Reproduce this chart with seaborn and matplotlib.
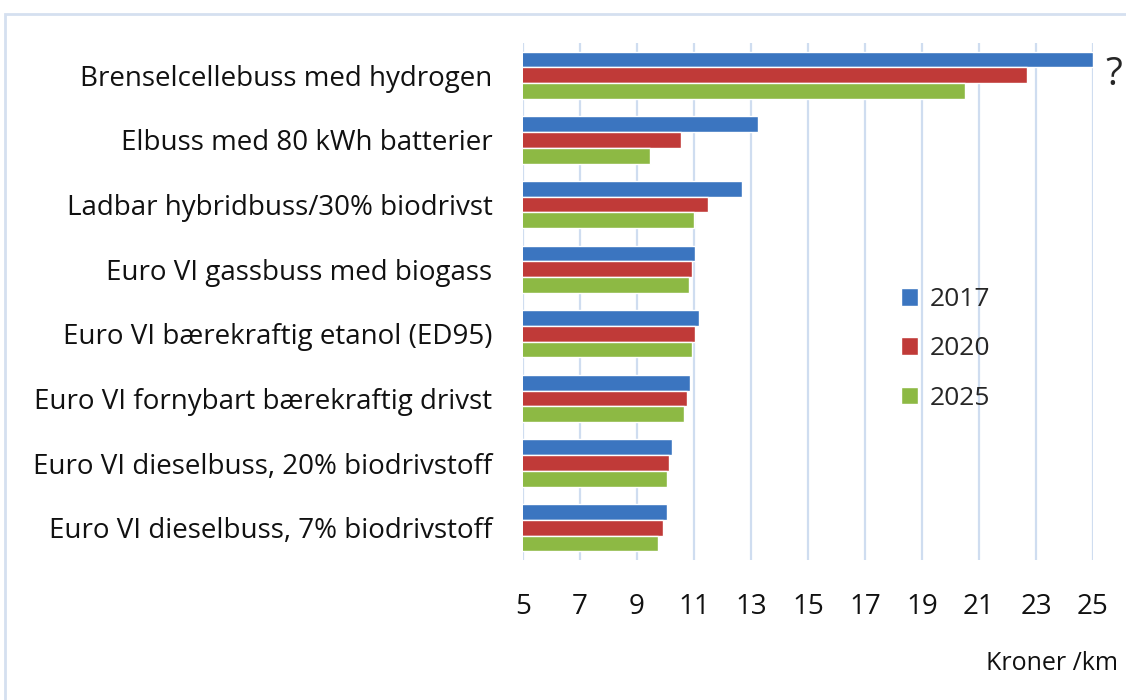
import numpy as np
import pandas as pd
import matplotlib
matplotlib.use('Agg')
import matplotlib.pyplot as plt
from matplotlib.patches import Rectangle
import seaborn as sns

# ========== data ==========
categories = [
    'Brenselcellebuss med hydrogen',
    'Elbuss med 80 kWh batterier',
    'Ladbar hybridbuss/30% biodrivst',
    'Euro VI gassbuss med biogass',
    'Euro VI bærekraftig etanol (ED95)',
    'Euro VI fornybart bærekraftig drivst',
    'Euro VI dieselbuss, 20% biodrivstoff',
    'Euro VI dieselbuss, 7% biodrivstoff',
]
years = ['2017', '2020', '2025']
cost_2017 = [25.0, 13.25, 12.7, 11.03, 11.17, 10.86, 10.23, 10.04]
cost_2020 = [22.7, 10.55, 11.5, 10.92, 11.03, 10.77, 10.13, 9.92]
cost_2025 = [20.5, 9.47, 11.0, 10.82, 10.92, 10.64, 10.05, 9.74]
x_ticks = [5, 7, 9, 11, 13, 15, 17, 19, 21, 23, 25]

colors = ['#3B75C0', '#C03A38', '#8DB944']
grid_color = '#CFDDF0'

df = pd.DataFrame({
    'kategori': categories * 3,
    'år': [y for y in years for _ in categories],
    'kr': cost_2017 + cost_2020 + cost_2025,
})

# ========== plot ==========
sns.set_theme(style='white')
plt.rcParams['font.family'] = ['Open Sans', 'DejaVu Sans']

fig = plt.figure(figsize=(11.26, 7.0), dpi=100)
ax = fig.add_axes([523 / 1126, 1 - 560 / 700, 570 / 1126, 517 / 700])

sns.barplot(data=df, x='kr', y='kategori', hue='år', order=categories,
            hue_order=years, palette=colors, saturation=1, width=0.73,
            orient='h', ax=ax)

ax.set_xlim(5, 25)
ax.set_xticks(x_ticks)
ax.set_xticklabels([str(t) for t in x_ticks])
ax.set_xlabel('')
ax.set_ylabel('')
ax.tick_params(axis='x', length=0, pad=24, labelsize=20, colors='#111111')
ax.tick_params(axis='y', length=0, pad=22, labelsize=20, colors='#111111')
for s in ax.spines.values():
    s.set_visible(False)
ax.grid(axis='x', color=grid_color, linewidth=1.6)
ax.set_axisbelow(True)

# legend
handles, labels = ax.get_legend_handles_labels()
ax.legend(handles, labels, loc='upper left', frameon=False,
          bbox_to_anchor=(888 / 1126, 1 - 274 / 700),
          bbox_transform=fig.transFigure, fontsize=19,
          handlelength=0.65, handleheight=0.65, handletextpad=0.45,
          labelspacing=0.92, borderpad=0)

# question mark next to the fuel-cell bar
ax.annotate('?', xy=(cost_2017[0], 0), xytext=(9, 0),
            textcoords='offset points', fontsize=28, va='center',
            ha='left', annotation_clip=False)

fig.text(1118 / 1126, 1 - 663 / 700, 'Kroner /km', ha='right', va='center',
         fontsize=18, color='#111111')

# outer chart frame
fig.patches.append(Rectangle((5 / 1126, -0.1), 1.2, 1 - 14 / 700 + 0.1,
                             transform=fig.transFigure, fill=False,
                             edgecolor='#D5E0F0', linewidth=2))

fig.savefig('out.png', dpi=100)
